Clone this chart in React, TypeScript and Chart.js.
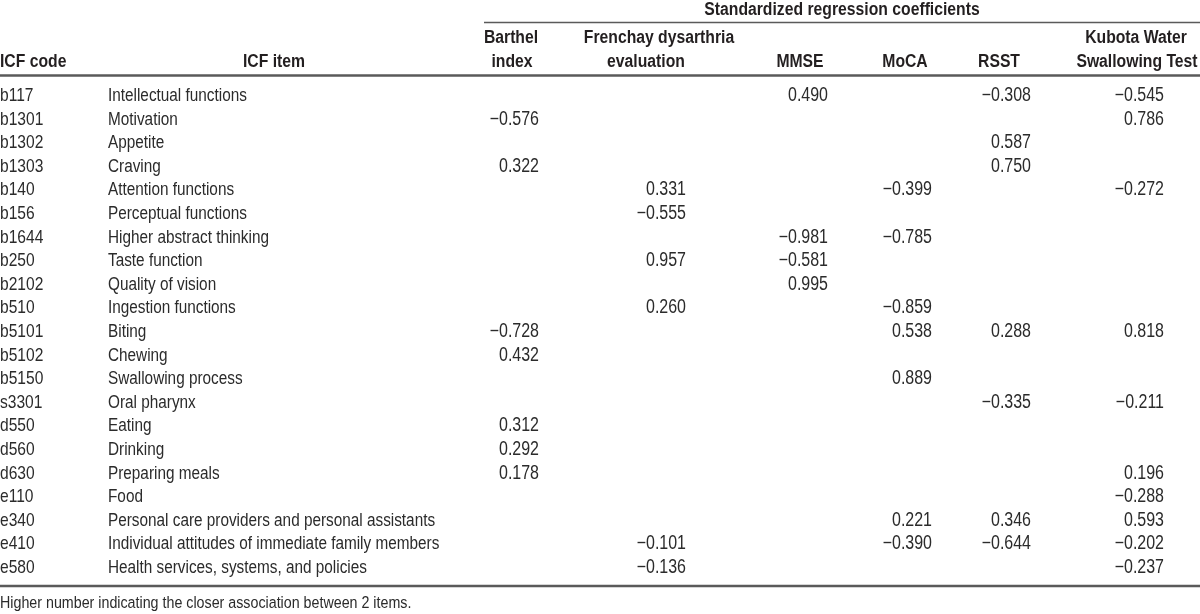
import React, { useEffect, useRef } from "react";
import { Chart, registerables } from "chart.js";

Chart.register(...registerables);

// ---------- data ----------
const icfCodes = [
  "b117", "b1301", "b1302", "b1303", "b140", "b156", "b1644", "b250", "b2102", "b510",
  "b5101", "b5102", "b5150", "s3301", "d550", "d560", "d630", "e110", "e340", "e410", "e580",
];
const icfItems = [
  "Intellectual functions",
  "Motivation",
  "Appetite",
  "Craving",
  "Attention functions",
  "Perceptual functions",
  "Higher abstract thinking",
  "Taste function",
  "Quality of vision",
  "Ingestion functions",
  "Biting",
  "Chewing",
  "Swallowing process",
  "Oral pharynx",
  "Eating",
  "Drinking",
  "Preparing meals",
  "Food",
  "Personal care providers and personal assistants",
  "Individual attitudes of immediate family members",
  "Health services, systems, and policies",
];
const _ = null;
const barthel = [_, -0.576, _, 0.322, _, _, _, _, _, _, -0.728, 0.432, _, _, 0.312, 0.292, 0.178, _, _, _, _];
const frenchay = [_, _, _, _, 0.331, -0.555, _, 0.957, _, 0.26, _, _, _, _, _, _, _, _, _, -0.101, -0.136];
const mmse = [0.49, _, _, _, _, _, -0.981, -0.581, 0.995, _, _, _, _, _, _, _, _, _, _, _, _];
const moca = [_, _, _, _, -0.399, _, -0.785, _, _, -0.859, 0.538, _, 0.889, _, _, _, _, _, 0.221, -0.39, _];
const rsst = [-0.308, _, 0.587, 0.75, _, _, _, _, _, _, 0.288, _, _, -0.335, _, _, _, _, 0.346, -0.644, _];
const kubota = [-0.545, 0.786, _, _, -0.272, _, _, _, _, _, 0.818, _, _, -0.211, _, _, 0.196, -0.288, 0.593, -0.202, -0.237];

const measureSeries = [barthel, frenchay, mmse, moca, rsst, kubota];
const measureHeaders = [
  ["Barthel", "index"],
  ["Frenchay dysarthria", "evaluation"],
  ["MMSE"],
  ["MoCA"],
  ["RSST"],
  ["Kubota Water", "Swallowing Test"],
];
const groupTitle = "Standardized regression coefficients";
const codeHeader = "ICF code";
const itemHeader = "ICF item";
const footnote = "Higher number indicating the closer association between 2 items.";

// ---------- layout (table units) ----------
const COL_RIGHT = [539, 686, 828, 932, 1031, 1164];
const HEAD_CENTER = [[511, 512], [659, 646], [800], [905], [999], [1136, 1137]];
const ITEM_LEFT = 108;
const ITEM_HEAD_CENTER = 274;
const GROUP_LEFT = 484;
const GROUP_CENTER = 842;
const Y_MIN = -4.28;
const Y_MAX = 21.737;
const Y_GROUP_TEXT = -3.644;
const Y_GROUP_LINE = -3.326;
const Y_HEAD1 = -2.458;
const Y_HEAD2 = -1.441;
const Y_HEAD_LINE = -1.08;
const Y_BOTTOM_LINE = 20.55;
const Y_FOOT = 21.48;

const TEXT = "#231f20";
const BODY_TEXT = "#2b2b2b";
const RULE = "#5a5a5a";

function fmt(v: number) {
  const s = Math.abs(v).toFixed(3);
  return v < 0 ? "\u2212" + s : s;
}

let narrowOk: boolean | null = null;
function checkNarrow(ctx: CanvasRenderingContext2D) {
  if (narrowOk !== null) return narrowOk;
  ctx.save();
  ctx.font = '20px monospace';
  const a = ctx.measureText("Intellectual functions 0.123").width;
  ctx.font = '20px "Liberation Sans Narrow", monospace';
  const b = ctx.measureText("Intellectual functions 0.123").width;
  ctx.restore();
  narrowOk = Math.abs(a - b) > 1;
  return narrowOk;
}

function drawText(
  ctx: CanvasRenderingContext2D,
  text: string,
  x: number,
  y: number,
  align: CanvasTextAlign,
  size: number,
  bold: boolean,
  color: string = TEXT
) {
  const narrow = checkNarrow(ctx);
  ctx.save();
  ctx.fillStyle = color;
  ctx.textAlign = align;
  ctx.textBaseline = "alphabetic";
  ctx.translate(x, y);
  if (narrow) {
    ctx.font = `${bold ? "bold " : ""}${size}px "Liberation Sans Narrow", "Liberation Sans", sans-serif`;
  } else {
    ctx.font = `${bold ? "bold " : ""}${size}px "Liberation Sans", sans-serif`;
    ctx.scale(0.82, 1);
  }
  ctx.fillText(text, 0, 0);
  ctx.restore();
}

const tablePlugin = {
  id: "tablePlugin",
  afterDatasetsDraw(chart: any) {
    const ctx: CanvasRenderingContext2D = chart.ctx;
    const xs = chart.scales.x;
    const ys = chart.scales.y;
    const X = (v: number) => xs.getPixelForValue(v);
    const Y = (v: number) => ys.getPixelForValue(v);
    const HEAD = 19.2;

    const rule = (x0: number, x1: number, y: number, w: number) => {
      ctx.save();
      ctx.strokeStyle = RULE;
      ctx.lineWidth = w;
      ctx.beginPath();
      ctx.moveTo(X(x0), Y(y));
      ctx.lineTo(X(x1), Y(y));
      ctx.stroke();
      ctx.restore();
    };
    rule(GROUP_LEFT, 1200, Y_GROUP_LINE, 1.5);
    rule(0, 1200, Y_HEAD_LINE, 2.5);
    rule(0, 1200, Y_BOTTOM_LINE, 2.5);

    drawText(ctx, groupTitle, X(GROUP_CENTER), Y(Y_GROUP_TEXT), "center", HEAD, true);
    drawText(ctx, codeHeader, X(0), Y(Y_HEAD2), "left", HEAD, true);
    drawText(ctx, itemHeader, X(ITEM_HEAD_CENTER), Y(Y_HEAD2), "center", HEAD, true);
    measureHeaders.forEach((lines, j) => {
      if (lines.length === 2) {
        drawText(ctx, lines[0], X(HEAD_CENTER[j][0]), Y(Y_HEAD1), "center", HEAD, true);
        drawText(ctx, lines[1], X(HEAD_CENTER[j][1]), Y(Y_HEAD2), "center", HEAD, true);
      } else {
        drawText(ctx, lines[0], X(HEAD_CENTER[j][0]), Y(Y_HEAD2), "center", HEAD, true);
      }
    });

    icfCodes.forEach((c, i) => {
      drawText(ctx, c, X(0), Y(i), "left", 19, false, BODY_TEXT);
      drawText(ctx, icfItems[i], X(ITEM_LEFT), Y(i), "left", 18.7, false, BODY_TEXT);
    });

    chart.data.datasets.forEach((ds: any, di: number) => {
      const meta = chart.getDatasetMeta(di);
      meta.data.forEach((el: any, k: number) => {
        const raw = ds.data[k];
        if (!raw) return;
        drawText(ctx, fmt(raw.v), el.x, el.y, "right", 19.5, false, BODY_TEXT);
      });
    });

    drawText(ctx, footnote, X(0), Y(Y_FOOT), "left", 17.4, false, BODY_TEXT);
  },
};

export default function App() {
  const ref = useRef<HTMLCanvasElement | null>(null);
  useEffect(() => {
    if (!ref.current) return;
    const datasets = measureSeries.map((series, j) => ({
      label: measureHeaders[j].join(" "),
      data: series
        .map((v, i) => (v === null ? null : { x: COL_RIGHT[j], y: i, v }))
        .filter((p) => p !== null) as any[],
      pointRadius: 0,
      pointHoverRadius: 0,
      showLine: false,
    }));
    const chart = new Chart(ref.current, {
      type: "scatter",
      data: { datasets },
      options: {
        animation: false,
        responsive: false,
        maintainAspectRatio: false,
        layout: { padding: 0 },
        events: [],
        plugins: { legend: { display: false }, tooltip: { enabled: false } },
        scales: {
          x: { type: "linear", min: 0, max: 1200, display: false },
          y: { type: "linear", min: Y_MIN, max: Y_MAX, reverse: true, display: false },
        },
      },
      plugins: [tablePlugin],
    });
    return () => chart.destroy();
  }, []);
  return (
    <div style={{ position: "absolute", left: 0, top: 0, width: 1200, height: 614, background: "#fff" }}>
      <canvas ref={ref} width={1200} height={614} style={{ display: "block" }} />
    </div>
  );
}
